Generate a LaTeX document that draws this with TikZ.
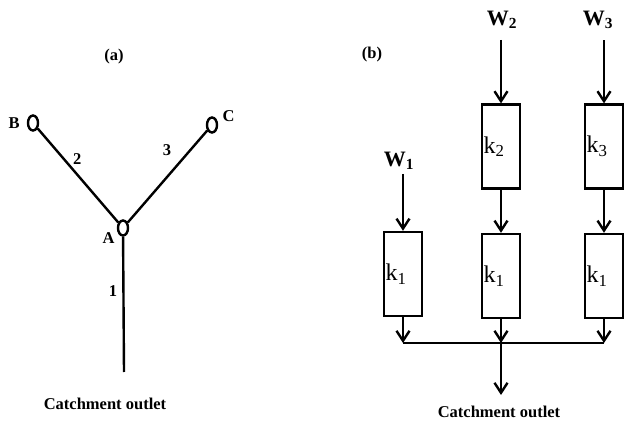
\documentclass[tikz,border=0pt]{standalone}
\usepackage{fontspec}
\setmainfont{Liberation Serif}
\usetikzlibrary{positioning,shapes.geometric,arrows.meta}
\begin{document}
\begin{tikzpicture}[x=1pt, y=-1pt, node distance=43pt, line width=2.4pt,
    junc/.style = {draw, ellipse, minimum width=10pt, minimum height=15pt, inner sep=0pt},
    lbl/.style = {font=\fontsize{16.5}{18}\selectfont\bfseries, inner sep=1pt},
    tank/.style = {draw, rectangle, text width=35pt, minimum height=84pt, inner sep=1.5pt, align=left, font=\fontsize{24}{26}\selectfont},
    inflow/.style = {font=\fontsize{22}{24}\selectfont\bfseries, inner sep=1pt},
    flow/.style = {-{Straight Barb[length=10pt,width=13pt]}}]
\useasboundingbox (0,0) rectangle (624,422);

% (a) the stream network
\node[lbl] (taga) at (114,57) {(a)};
\node[junc] (B) at (33,123) {};
\node[junc] (C) at (212,125) {};
\node[junc] (A) at (123,228) {};
\coordinate (outa) at (124,372);
\node[lbl, left=5pt of B] (labB) {B};
\node[lbl, above right=-5pt and 4pt of C] (labC) {C};
\node[lbl, below left=-4pt and 2pt of A] (labA) {A};
\node[lbl] (outleta) at (105,404) {Catchment outlet};

\draw (B) -- node[lbl, pos=0.45, above right=4pt and -3pt]{2} (A);
\draw (C) -- node[lbl, pos=0.4, above left=9pt and 2pt]{3} (A);
\draw (A) -- node[lbl, pos=0.4, left=4pt]{1} (outa);

% (b) the cascade of reservoirs
\node[lbl] (tagb) at (372,55) {(b)};
\node[tank] (r1) at (403,274) {k\textsubscript{1}};
\node[tank] (r2) at (501,276) {k\textsubscript{1}};
\node[tank] (r3) at (604,276) {k\textsubscript{1}};
\node[tank, above=of r2] (u2) {k\textsubscript{2}};
\node[tank, above=of r3] (u3) {k\textsubscript{3}};
\node[inflow] (W1) at (399,161) {W\textsubscript{1}};
\node[inflow] (W2) at (502,20) {W\textsubscript{2}};
\node[inflow] (W3) at (598,20) {W\textsubscript{3}};
\coordinate (bus) at (501,343);
\coordinate (outb) at (501,395);
\node[lbl] (outletb) at (499,412) {Catchment outlet};

\draw[flow, shorten <=2pt] (r1 |- W1.south) -- (r1);
\draw[flow, shorten <=9pt] (u2 |- W2.south) -- (u2);
\draw[flow, shorten <=9pt] (u3 |- W3.south) -- (u3);
\draw[flow] (u2) -- (r2);
\draw[flow] (u3) -- (r3);
\draw[flow] (r1) -- (r1 |- bus);
\draw[flow] (r2) -- (bus);
\draw[flow] (r3) -- (r3 |- bus);
\draw (r1 |- bus) -- (r3 |- bus);
\draw[flow] (bus) -- (outb);
\end{tikzpicture}
\end{document}
